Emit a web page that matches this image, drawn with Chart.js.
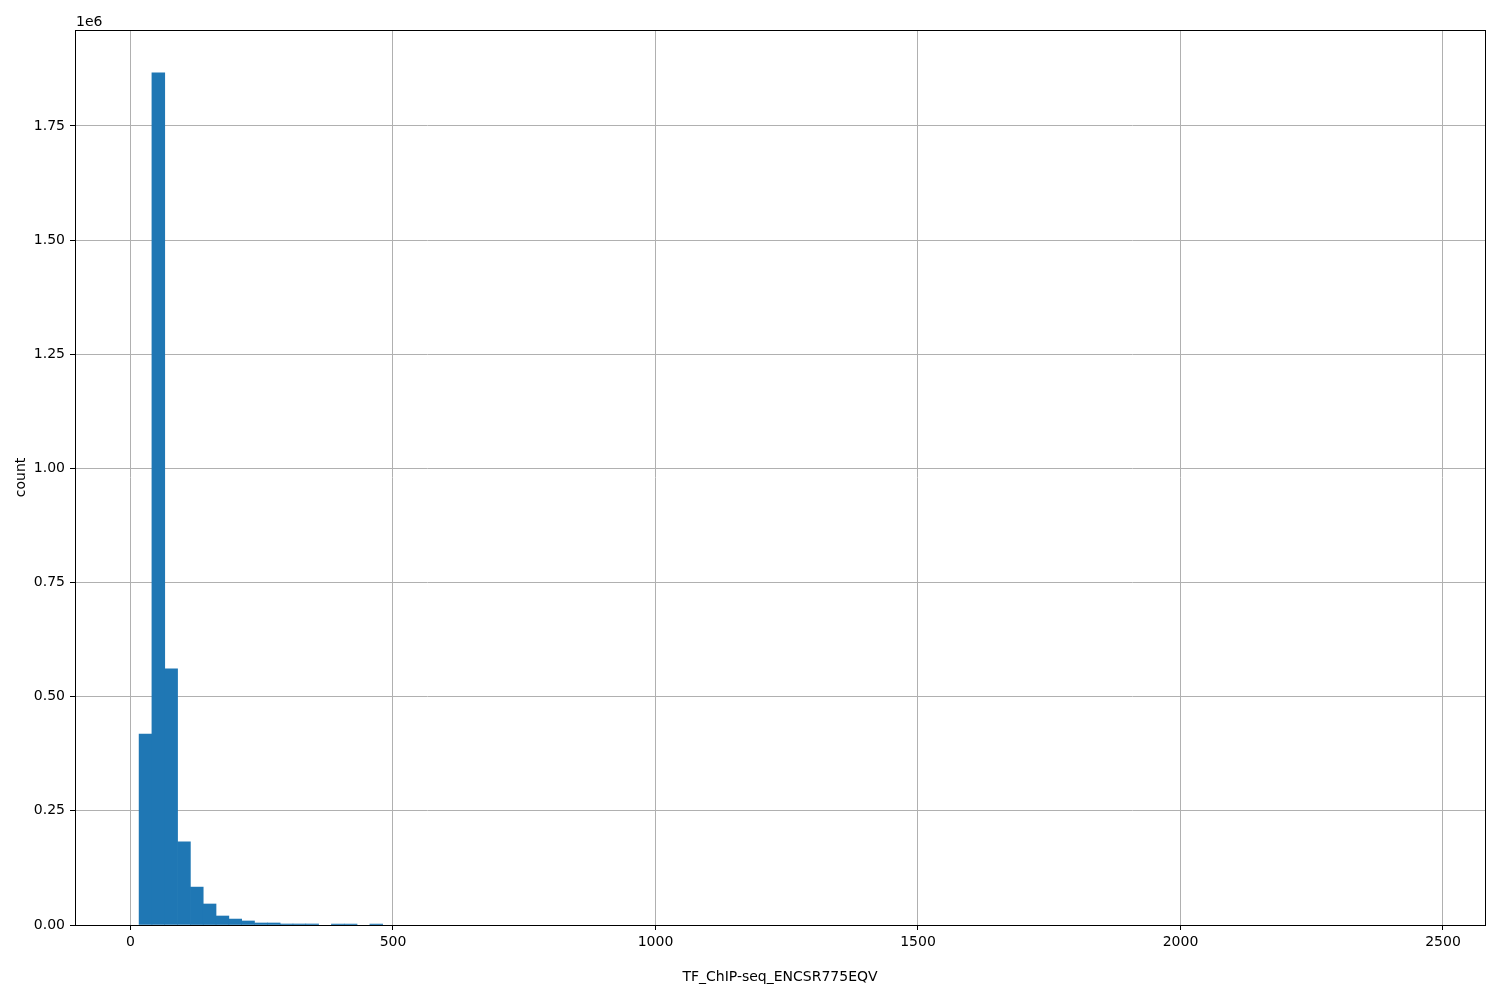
<!DOCTYPE html>
<html>
<head>
<meta charset="utf-8">
<script src="https://cdn.jsdelivr.net/npm/chart.js@4/dist/chart.umd.min.js"></script>
<style>
  html, body { margin: 0; padding: 0; background: #fff; }
</style>
</head>
<body>
<canvas id="histChart" width="1500" height="1000"></canvas>
<script>
// histogram: 100 bins, first edge and bin width
const binStart = 16.4;
const binWidth = 24.42;
const counts = [
  418000, 1866000, 561000, 182000, 83000, 46000, 19700, 13000, 8800, 4400,
  4400, 2200, 2200, 2200, 0, 2000, 2000, 0, 2000, 0,
  0, 0, 0, 0, 0, 0, 0, 0, 0, 0,
  0, 0, 0, 0, 0, 0, 0, 0, 0, 0,
  0, 0, 0, 0, 0, 0, 0, 0, 0, 0,
  0, 0, 0, 0, 0, 0, 0, 0, 0, 0,
  0, 0, 0, 0, 0, 0, 0, 0, 0, 0,
  0, 0, 0, 0, 0, 0, 0, 0, 0, 0,
  0, 0, 0, 0, 0, 0, 0, 0, 0, 0,
  0, 0, 0, 0, 0, 0, 0, 0, 0, 0
];
const xTicks = [0, 500, 1000, 1500, 2000, 2500];
const yTicks = [0, 250000, 500000, 750000, 1000000, 1250000, 1500000, 1750000];
const xLabel = 'TF_ChIP-seq_ENCSR775EQV';
const yLabel = 'count';

const FONT = '"DejaVu Sans", sans-serif';

const frameAndText = {
    id: 'frameAndText',
    afterDraw(chart) {
        const { ctx, chartArea: a } = chart;
        ctx.save();
        ctx.strokeStyle = '#000';
        ctx.lineWidth = 1;
        ctx.strokeRect(Math.round(a.left) + 0.5, Math.round(a.top) + 0.5,
            Math.round(a.right - a.left), Math.round(a.bottom - a.top));
        ctx.fillStyle = '#000';
        ctx.font = '14px ' + FONT;
        ctx.textAlign = 'left';
        ctx.textBaseline = 'alphabetic';
        ctx.fillText('1e6', a.left + 1, a.top - 4);
        ctx.textAlign = 'center';
        ctx.textBaseline = 'middle';
        ctx.fillText(xLabel, (a.left + a.right) / 2, 977);
        ctx.translate(21, (a.top + a.bottom) / 2);
        ctx.rotate(-Math.PI / 2);
        ctx.fillText(yLabel, 0, 0);
        ctx.restore();
    }
};

new Chart(document.getElementById('histChart').getContext('2d'), {
    type: 'bar',
    data: {
        datasets: [{
            data: counts.map((c, i) => ({ x: binStart + binWidth * (i + 0.5), y: c > 0 ? c : null })),
            backgroundColor: '#1f77b4',
            borderWidth: 0,
            barPercentage: 1,
            categoryPercentage: 1
        }]
    },
    options: {
        responsive: false,
        animation: false,
        layout: { padding: { top: 30, right: 15, left: 0, bottom: 0 } },
        plugins: { legend: { display: false }, tooltip: { enabled: false } },
        scales: {
            x: {
                type: 'linear',
                offset: false,
                min: -105.7,
                max: 2580,
                afterBuildTicks: s => { s.ticks = xTicks.map(v => ({ value: v })); },
                afterFit: s => { s.height = 75; },
                grid: { offset: false, color: '#b0b0b0', lineWidth: 1, tickColor: '#000', tickLength: 5 },
                border: { display: false },
                ticks: { color: '#000', font: { family: FONT, size: 14 }, padding: 4, maxRotation: 0,
                         callback: v => String(v) }
            },
            y: {
                min: 0,
                max: 1960000,
                afterBuildTicks: s => { s.ticks = yTicks.map(v => ({ value: v })); },
                afterFit: s => { s.width = 75; },
                grid: { color: '#b0b0b0', lineWidth: 1, tickColor: '#000', tickLength: 5 },
                border: { display: false },
                ticks: { color: '#000', font: { family: FONT, size: 14 }, padding: 5,
                         callback: v => (v / 1e6).toFixed(2) }
            }
        }
    },
    plugins: [frameAndText]
});
</script>
</body>
</html>
